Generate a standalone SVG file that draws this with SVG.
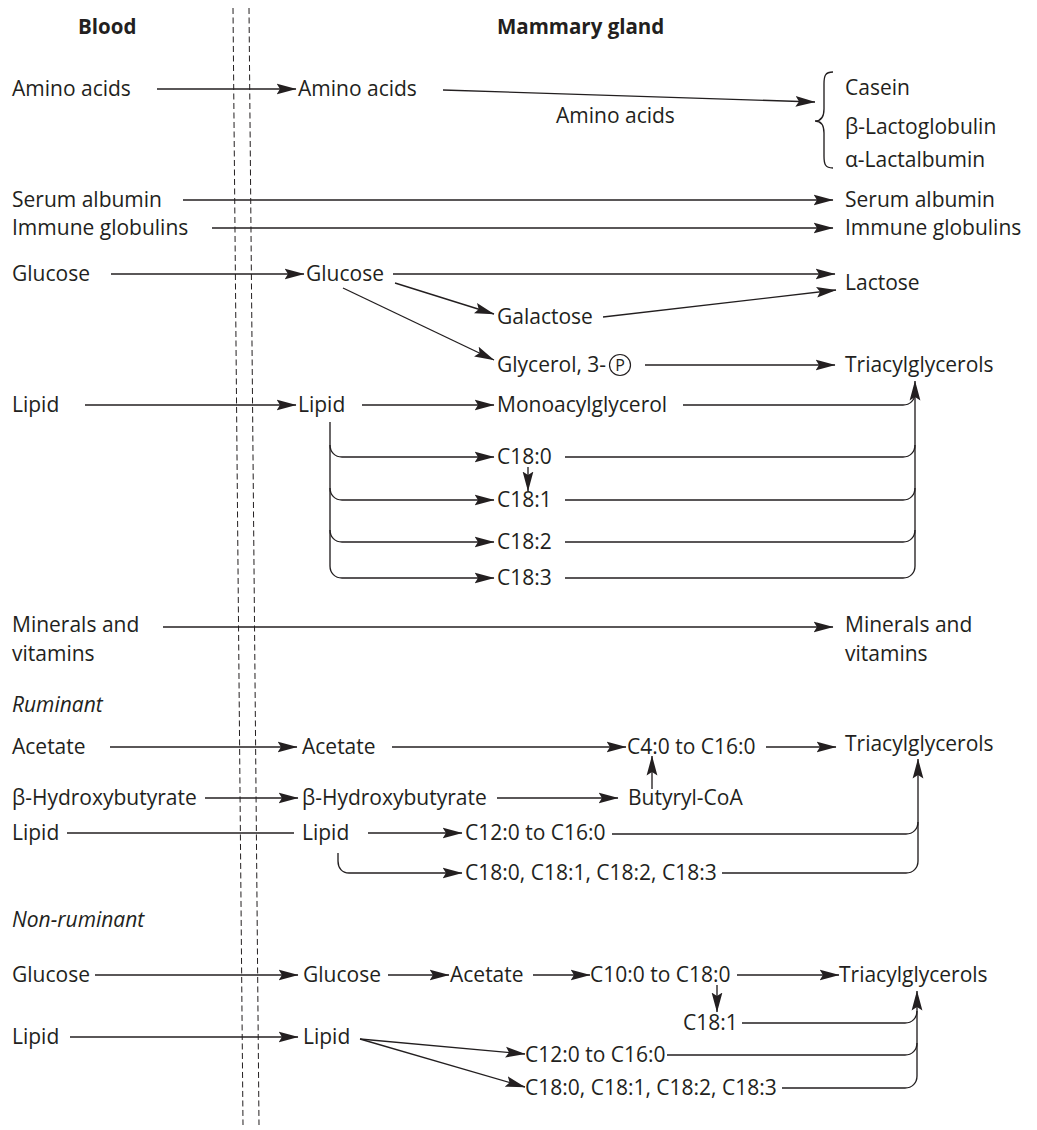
<svg xmlns="http://www.w3.org/2000/svg" width="1037" height="1130" viewBox="0 0 1037 1130">
<style>
text{font-family:"Open Sans","Noto Sans","Liberation Sans",sans-serif;font-size:21px;fill:#231f20}
.b{font-weight:bold;font-size:20.5px}
.i{font-style:italic}
.c{fill:none;stroke:#231f20;stroke-width:1.35}
.a{marker-end:url(#ah)}
.d{fill:none;stroke:#231f20;stroke-width:1;stroke-dasharray:6 3.5}
</style>
<defs>
<marker id="ah" markerUnits="userSpaceOnUse" markerWidth="20" markerHeight="12" viewBox="0 0 20 12" refX="19.5" refY="6" orient="auto">
<path d="M0,0.6 L20,6 L0,11.4 L3.5,6 Z" fill="#231f20"/>
</marker>
</defs>
<rect width="1037" height="1130" fill="#fff"/>
<g id="membrane">
<line class="d" x1="233" y1="8" x2="243" y2="1125"/>
<line class="d" x1="249" y1="8" x2="259" y2="1125"/>
</g>
<g id="headers">
<text class="b" x="78" y="34">Blood</text>
<text class="b" x="497" y="34">Mammary gland</text>
</g>
<g id="n-amino-blood"><text x="12" y="96">Amino acids</text></g>
<g id="n-amino-gland"><text x="298" y="96">Amino acids</text></g>
<g id="n-amino-label"><text x="556" y="123">Amino acids</text></g>
<g id="n-milk-proteins">
<path class="c" d="M833,72 C825,72 824,76 824,84 L824,109 C824,117 821,121 815,121 C821,121 824,125 824,133 L824,156 C824,164 825,168 833,168"/>
<text x="845" y="95">Casein</text>
<text x="845" y="134">β-Lactoglobulin</text>
<text x="845" y="167">α-Lactalbumin</text>
</g>
<g id="n-serum-blood"><text x="12" y="207">Serum albumin</text></g>
<g id="n-serum-milk"><text x="845" y="207">Serum albumin</text></g>
<g id="n-immune-blood"><text x="12" y="235">Immune globulins</text></g>
<g id="n-immune-milk"><text x="845" y="235">Immune globulins</text></g>
<g id="n-glucose-blood"><text x="12" y="281">Glucose</text></g>
<g id="n-glucose-gland"><text x="306" y="281">Glucose</text></g>
<g id="n-galactose"><text x="497" y="324">Galactose</text></g>
<g id="n-lactose"><text x="845" y="290">Lactose</text></g>
<g id="n-glycerol">
<text x="497" y="372">Glycerol, 3-</text>
<circle cx="620" cy="365" r="10.5" fill="none" stroke="#231f20" stroke-width="1.2"/>
<text x="620" y="371" text-anchor="middle" style="font-size:16px">P</text>
</g>
<g id="n-tag1"><text x="845" y="372">Triacylglycerols</text></g>
<g id="n-lipid-blood"><text x="12" y="412">Lipid</text></g>
<g id="n-lipid-gland"><text x="298" y="412">Lipid</text></g>
<g id="n-monoacyl"><text x="497" y="412">Monoacylglycerol</text></g>
<g id="n-c180"><text x="497" y="464">C18:0</text></g>
<g id="n-c181"><text x="497" y="507">C18:1</text></g>
<g id="n-c182"><text x="497" y="549">C18:2</text></g>
<g id="n-c183"><text x="497" y="585">C18:3</text></g>
<g id="n-minerals-blood"><text x="12" y="632">Minerals and</text><text x="12" y="661">vitamins</text></g>
<g id="n-minerals-milk"><text x="845" y="632">Minerals and</text><text x="845" y="661">vitamins</text></g>
<g id="n-ruminant"><text class="i" x="12" y="712">Ruminant</text></g>
<g id="n-r-acetate-blood"><text x="12" y="754">Acetate</text></g>
<g id="n-r-acetate-gland"><text x="302" y="754">Acetate</text></g>
<g id="n-r-c4c16"><text x="627" y="754">C4:0 to C16:0</text></g>
<g id="n-r-tag"><text x="845" y="751">Triacylglycerols</text></g>
<g id="n-r-bhb-blood"><text x="12" y="805">β-Hydroxybutyrate</text></g>
<g id="n-r-bhb-gland"><text x="302" y="805">β-Hydroxybutyrate</text></g>
<g id="n-r-butyryl"><text x="628" y="805">Butyryl-CoA</text></g>
<g id="n-r-lipid-blood"><text x="12" y="840">Lipid</text></g>
<g id="n-r-lipid-gland"><text x="302" y="840">Lipid</text></g>
<g id="n-r-c12c16"><text x="465" y="840">C12:0 to C16:0</text></g>
<g id="n-r-c18s"><text x="465" y="880">C18:0, C18:1, C18:2, C18:3</text></g>
<g id="n-nonruminant"><text class="i" x="12" y="927">Non-ruminant</text></g>
<g id="n-n-glucose-blood"><text x="12" y="982">Glucose</text></g>
<g id="n-n-glucose-gland"><text x="303" y="982">Glucose</text></g>
<g id="n-n-acetate"><text x="450" y="982">Acetate</text></g>
<g id="n-n-c10c18"><text x="590" y="982">C10:0 to C18:0</text></g>
<g id="n-n-tag"><text x="839" y="982">Triacylglycerols</text></g>
<g id="n-n-c181"><text x="683" y="1030">C18:1</text></g>
<g id="n-n-lipid-blood"><text x="12" y="1044">Lipid</text></g>
<g id="n-n-lipid-gland"><text x="303" y="1044">Lipid</text></g>
<g id="n-n-c12c16"><text x="525" y="1062">C12:0 to C16:0</text></g>
<g id="n-n-c18s"><text x="525" y="1095">C18:0, C18:1, C18:2, C18:3</text></g>
<g id="connectors">
<path class="c a" d="M157,89 H296"/>
<path class="c a" d="M443,90 L815,102"/>
<path class="c a" d="M183,200 H833"/>
<path class="c a" d="M212,228 H833"/>
<path class="c a" d="M111,274 H304"/>
<path class="c a" d="M393,274 H835"/>
<path class="c a" d="M395,283 L494,314"/>
<path class="c a" d="M603,317 L836,290"/>
<path class="c a" d="M343,288 L494,360"/>
<path class="c a" d="M645,365 H835"/>
<path class="c a" d="M85,405 H296"/>
<path class="c a" d="M362,405 H494"/>
<path class="c" d="M330,422 V566"/>
<path class="c a" d="M330,445 C330,452 335,457 342,457 H494"/>
<path class="c a" d="M330,488 C330,495 335,500 342,500 H494"/>
<path class="c a" d="M330,530 C330,537 335,542 342,542 H494"/>
<path class="c a" d="M330,566 C330,573 335,578 342,578 H494"/>
<path class="c a" d="M528,467 V491"/>
<path class="c" d="M683,405 H903 C910,405 915,400 915,393"/>
<path class="c" d="M565,457 H903 C910,457 915,452 915,445"/>
<path class="c" d="M565,500 H903 C910,500 915,495 915,488"/>
<path class="c" d="M565,542 H903 C910,542 915,537 915,530"/>
<path class="c" d="M565,578 H903 C910,578 915,573 915,566"/>
<path class="c a" d="M915,566 V381"/>
<path class="c a" d="M163,627 H833"/>
<path class="c a" d="M110,747 H297"/>
<path class="c a" d="M392,747 H626"/>
<path class="c a" d="M766,747 H836"/>
<path class="c a" d="M652,789 V756"/>
<path class="c a" d="M205,798 H298"/>
<path class="c a" d="M497,798 H618"/>
<path class="c" d="M67,833 H294"/>
<path class="c a" d="M368,833 H462"/>
<path class="c a" d="M338,853 V861 C338,868 342,873 349,873 H462"/>
<path class="c" d="M612,834 H906 C913,834 918,829 918,822"/>
<path class="c" d="M722,873 H906 C913,873 918,868 918,861"/>
<path class="c a" d="M918,861 V759"/>
<path class="c a" d="M95,975 H298"/>
<path class="c a" d="M388,975 H449"/>
<path class="c a" d="M533,975 H590"/>
<path class="c a" d="M737,975 H839"/>
<path class="c a" d="M717,985 V1012"/>
<path class="c a" d="M70,1037 H298"/>
<path class="c a" d="M360,1039 L525,1054"/>
<path class="c a" d="M360,1039 L525,1087"/>
<path class="c" d="M742,1023 H905 C912,1023 917,1018 917,1011"/>
<path class="c" d="M667,1055 H905 C912,1055 917,1050 917,1043"/>
<path class="c" d="M782,1088 H905 C912,1088 917,1083 917,1076"/>
<path class="c a" d="M917,1076 V991"/>
</g>
</svg>
